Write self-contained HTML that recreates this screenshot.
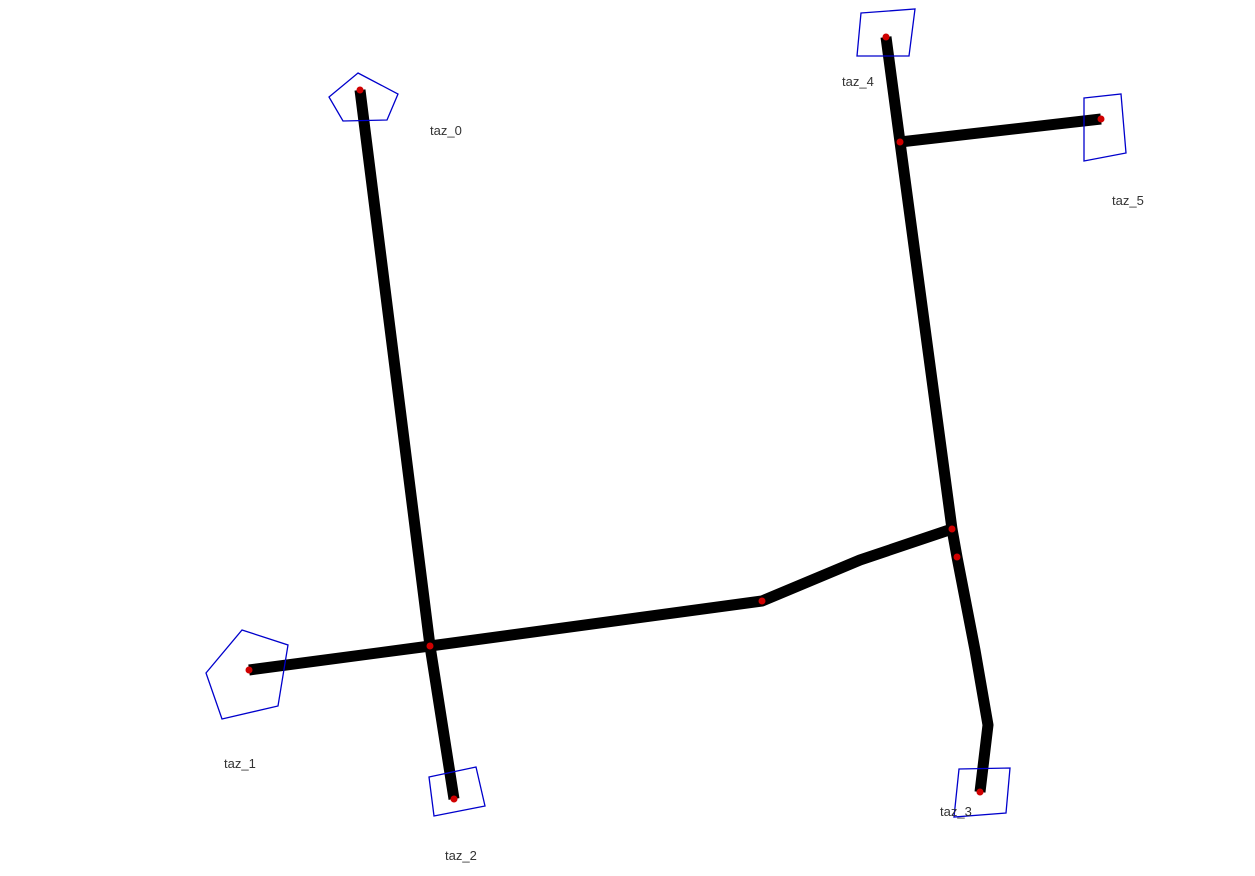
<!DOCTYPE html>
<html><head><meta charset="utf-8"><style>
html,body{margin:0;padding:0;background:#fff;}
svg{display:block;}
text{font-family:"Liberation Sans","DejaVu Sans",sans-serif;font-size:13px;fill:#333;}
</style></head><body>
<svg id="net" width="1255" height="876" viewBox="0 0 1255 876"></svg>
<script>
const tazNames = ["taz_0","taz_1","taz_2","taz_3","taz_4","taz_5"];
const tazShapes = [
  [[358,73],[398,94],[387,120],[343,121],[329,97]],
  [[242,630],[288,645],[278,706],[222,719],[206,673]],
  [[429,777],[476,767],[485,806],[434,816]],
  [[959,769],[1010,768],[1006,813],[954,817]],
  [[861,13],[915,9],[909,56],[857,56]],
  [[1084,98],[1121,94],[1126,153],[1084,161]]
];
const tazLabels = [[430,135],[224,768],[445,860],[940,816],[842,86],[1112,205]];
const roads = [
  [[360,90],[430,646],[454,799]],
  [[249,670],[430,646],[762,601],[860,560],[952,529]],
  [[886,37],[900,142],[952,529],[957,557],[975,650],[988,725],[980,792]],
  [[900,142],[1101,119]]
];
const junctions = [[360,90],[249,670],[454,799],[980,792],[886,37],[1101,119],[430,646],[762,601],[900,142],[952,529],[957,557]];
const NS="http://www.w3.org/2000/svg";
const svg=document.getElementById('net');
roads.forEach((r,i)=>{
  const p=document.createElementNS(NS,'polyline');
  p.setAttribute('points',r.map(q=>q.join(',')).join(' '));
  p.setAttribute('fill','none');p.setAttribute('stroke','#000');
  p.setAttribute('stroke-width','11');p.setAttribute('stroke-linejoin','round');
  
  
  svg.appendChild(p);
});
tazShapes.forEach((s,i)=>{
  const p=document.createElementNS(NS,'polygon');
  p.setAttribute('points',s.map(q=>q.join(',')).join(' '));
  p.setAttribute('fill','none');p.setAttribute('stroke','#0000cc');p.setAttribute('stroke-width','1.3');
  
  
  svg.appendChild(p);
  const t=document.createElementNS(NS,'text');
  t.setAttribute('x',tazLabels[i][0]);t.setAttribute('y',tazLabels[i][1]);
  t.textContent=tazNames[i];
  
  
  svg.appendChild(t);
});
junctions.forEach(j=>{
  const c=document.createElementNS(NS,'circle');
  c.setAttribute('cx',j[0]);c.setAttribute('cy',j[1]);c.setAttribute('r','3.5');c.setAttribute('fill','#d00000');
  
  
  svg.appendChild(c);
});
</script>
</body></html>
